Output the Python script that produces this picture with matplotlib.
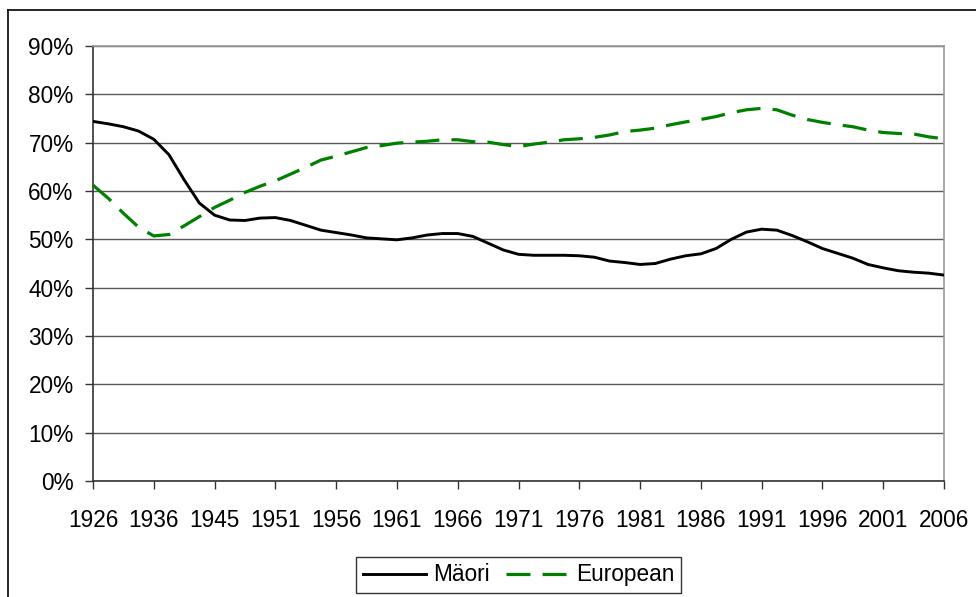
import matplotlib

matplotlib.use("Agg")

import matplotlib.pyplot as plt
import numpy as np
from matplotlib.lines import Line2D
from matplotlib.ticker import FuncFormatter

plt.rcParams["font.family"] = ["Liberation Sans", "DejaVu Sans"]

# census labels on the category axis
years = ["1926", "1936", "1945", "1951", "1956", "1961", "1966", "1971",
         "1976", "1981", "1986", "1991", "1996", "2001", "2006"]

# readings taken every quarter of a category step (percent)
maori = [74.4, 73.9, 73.3, 72.4, 70.7, 67.5, 62.3, 57.5,
         55.0, 54.0, 53.9, 54.4, 54.5, 53.9, 52.9, 51.9,
         51.4, 50.9, 50.3, 50.1, 49.9, 50.3, 50.9, 51.2,
         51.2, 50.6, 49.2, 47.8, 46.9, 46.7, 46.7, 46.7,
         46.6, 46.3, 45.5, 45.2, 44.8, 45.0, 45.9, 46.6,
         47.0, 48.1, 50.0, 51.5, 52.1, 51.9, 50.8, 49.5,
         48.1, 47.1, 46.1, 44.8, 44.1, 43.5, 43.2, 43.0,
         42.6]
european = [61.2, 58.5, 55.4, 52.5, 50.7, 51.0, 52.8, 54.7,
            56.6, 58.1, 59.7, 61.0, 62.1, 63.5, 64.9, 66.4,
            67.2, 68.1, 69.0, 69.4, 69.9, 70.1, 70.3, 70.6,
            70.6, 70.2, 70.1, 69.6, 69.2, 69.7, 70.1, 70.6,
            70.8, 71.1, 71.6, 72.3, 72.6, 73.0, 73.7, 74.3,
            74.8, 75.4, 76.2, 76.8, 77.1, 76.8, 75.7, 74.8,
            74.2, 73.7, 73.3, 72.6, 72.1, 71.9, 71.8, 71.2,
            70.8]

W, H = 976, 597
fig = plt.figure(figsize=(W / 100, H / 100), dpi=100)
ax = fig.add_axes([93 / W, 1 - 481 / H, (944 - 93) / W, (481 - 46) / H])

steps = np.arange(len(maori)) / 4
ax.plot(steps, maori, color="black", lw=2.1, solid_joinstyle="round",
        label="Mäori", zorder=3)
ax.plot(steps, european, color="#008000", lw=2.3, dashes=(7.5, 3.8),
        label="European", zorder=3)

ax.set_xlim(0, len(years) - 1)
ax.set_ylim(0, 90)
ax.set_xticks(range(len(years)))
ax.set_xticklabels(years)
ax.set_yticks(range(0, 91, 10))
ax.yaxis.set_major_formatter(FuncFormatter(lambda v, _: f"{v:.0f}%"))
ax.tick_params(axis="both", labelsize=16.3, length=6, width=1, color="#333333",
               direction="out")
ax.tick_params(axis="y", pad=8)
ax.tick_params(axis="x", pad=14)

ax.grid(axis="y", color="#5a5a5a", lw=1)
ax.set_axisbelow(True)
for side in ["left", "bottom"]:
    ax.spines[side].set_color("#333333")
    ax.spines[side].set_linewidth(1.2)
for side in ["top", "right"]:
    ax.spines[side].set_color("#999999")
    ax.spines[side].set_linewidth(1.2)

leg = ax.legend(loc="center", bbox_to_anchor=(0.5, -0.216), ncol=2,
                fontsize=16.3, frameon=True, fancybox=False, edgecolor="black",
                handlelength=2.8, handletextpad=0.3, columnspacing=0.7,
                borderpad=0.3, borderaxespad=0)
leg.get_frame().set_linewidth(1)

# outer chart border (left and top edges visible)
fig.add_artist(Line2D([8 / W, 8 / W], [0, 1 - 10 / H], color="black", lw=1.2,
                      transform=fig.transFigure))
fig.add_artist(Line2D([8 / W, 1], [1 - 10 / H, 1 - 10 / H], color="black",
                      lw=1.2, transform=fig.transFigure))

fig.savefig("out.png", dpi=100)
